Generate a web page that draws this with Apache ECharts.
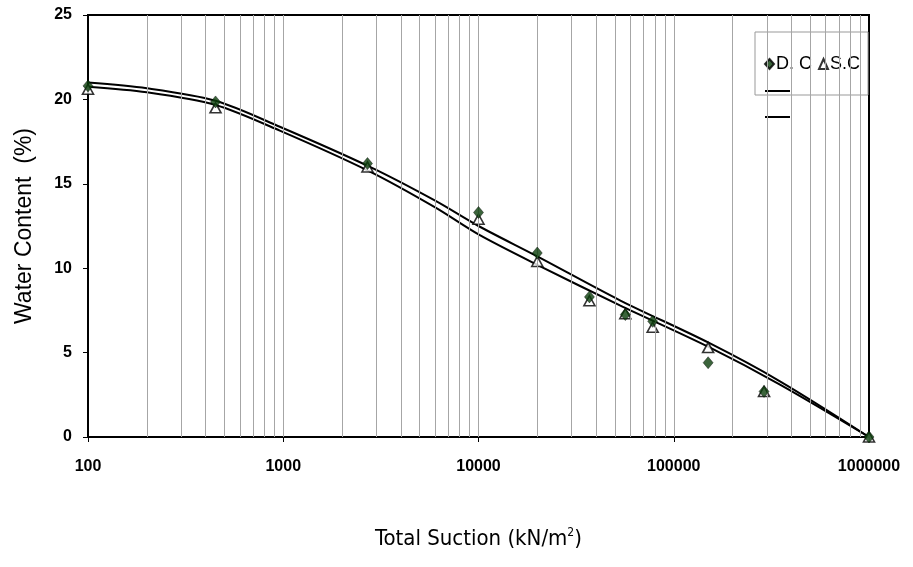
<!DOCTYPE html>
<html>
<head>
<meta charset="utf-8">
<script src="https://cdn.jsdelivr.net/npm/echarts@6/dist/echarts.min.js"></script>
<style>
  html, body {margin: 0; padding: 0; background: #fff;}
  #chart {width: 913px; height: 567px;}
</style>
</head>
<body>
<div id="chart"></div>
<script>
// measured points (suction kN/m2, water content %)
const dc_suction = [100, 450, 2700, 10000, 20000, 37000, 56500, 78000, 150000, 290000, 1000000];
const dc_water = [20.8, 19.85, 16.2, 13.3, 10.9, 8.3, 7.25, 6.85, 4.4, 2.7, 0];
const sc_suction = [100, 450, 2700, 10000, 20000, 37000, 56500, 78000, 150000, 290000, 1000000];
const sc_water = [20.6, 19.5, 16.0, 12.9, 10.4, 8.07, 7.3, 6.5, 5.3, 2.7, 0];

// fitted curves
const fit_suction = [100, 200, 450, 960, 2780, 6000, 10000, 20000, 53000, 150000, 350000, 1000000];
const fit_upper = [21.0, 20.66, 19.92, 18.38, 16.0, 14.0, 12.5, 10.7, 8.1, 5.6, 3.3, 0];
const fit_lower = [20.75, 20.42, 19.67, 18.15, 15.72, 13.6, 12.0, 10.2, 7.8, 5.35, 3.1, 0];

const x_ticks = [100, 1000, 10000, 100000, 1000000];
const y_ticks = [0, 5, 10, 15, 20, 25];

function zip(xs, ys) {
    return xs.map((x, i) => [x, ys[i]]);
}

// vertical log grid lines: 1..9 in each decade
let grid_values = [];
for (let d = 100; d < 1000000; d *= 10) {
    for (let k = 1; k <= 9; k++) {
        if (d * k > 100) grid_values.push(d * k);
    }
}

let chart = echarts.init(document.getElementById('chart'), null, {renderer: 'canvas'});

const option = {
    animation: false,
    grid: {
        left: 88, right: 44, top: 15, bottom: 130,
        show: true, borderColor: '#000', borderWidth: 2, backgroundColor: '#fff'
    },
    legend: [{
        data: ['D. C', 'S.C'],
        left: 755, top: 32,
        padding: [23, 8, 22, 9],
        itemGap: 6, itemWidth: 9, itemHeight: 10,
        borderColor: '#999', borderWidth: 1,
        backgroundColor: '#fff',
        textStyle: {fontFamily: 'Liberation Sans, Arial, sans-serif', fontSize: 18, color: '#000', padding: [0, 0, 0, -3]}
    }, {
        data: [{name: 'fit 1', icon: 'rect'}, {name: 'fit 2', icon: 'rect'}],
        orient: 'vertical',
        left: 765, top: 90,
        padding: 0,
        itemGap: 24, itemWidth: 25, itemHeight: 2,
        formatter: () => '',
        textStyle: {fontSize: 1}
    }],
    xAxis: {
        type: 'log', logBase: 10, min: x_ticks[0], max: x_ticks[x_ticks.length - 1],
        name: 'Total Suction (kN/m{sup|2})',
        nameLocation: 'middle', nameGap: 90,
        nameTextStyle: {
            fontFamily: 'DejaVu Sans Condensed, Liberation Sans Narrow, sans-serif',
            fontSize: 22, color: '#000',
            rich: {sup: {fontSize: 12, verticalAlign: 'top', padding: [0, 0, 12, 0],
                         fontFamily: 'DejaVu Sans Condensed, Liberation Sans Narrow, sans-serif'}}
        },
        axisLine: {lineStyle: {color: '#000', width: 2}},
        axisTick: {show: true, length: 5, lineStyle: {color: '#000'}},
        axisLabel: {
            margin: 22, color: '#000', fontWeight: 'bold', fontSize: 16,
            fontFamily: 'Liberation Sans, Arial, sans-serif',
            formatter: v => String(v)
        },
        splitLine: {show: false}
    },
    yAxis: {
        type: 'value', min: y_ticks[0], max: y_ticks[y_ticks.length - 1], interval: 5,
        name: 'Water Content  (%)',
        nameLocation: 'middle', nameGap: 52,
        nameTextStyle: {fontFamily: 'Liberation Sans, Arial, sans-serif', fontSize: 23, color: '#000'},
        axisLine: {show: true, lineStyle: {color: '#000', width: 2}},
        axisTick: {show: true, length: 5, lineStyle: {color: '#000'}},
        axisLabel: {
            margin: 16, color: '#000', fontWeight: 'bold', fontSize: 16,
            fontFamily: 'Liberation Sans, Arial, sans-serif'
        },
        splitLine: {show: false}
    },
    series: [{
        name: 'grid',
        type: 'line',
        data: [[100, 0]],
        symbol: 'none',
        lineStyle: {opacity: 0},
        z: 1,
        silent: true,
        markLine: {
            silent: true,
            symbol: 'none',
            label: {show: false},
            lineStyle: {color: '#a6a6a6', width: 1, type: 'solid'},
            data: grid_values.map(v => ({xAxis: v}))
        }
    }, {
        name: 'fit 1',
        type: 'line',
        data: zip(fit_suction, fit_upper),
        smooth: 0.3,
        symbol: 'none',
        lineStyle: {color: '#000', width: 2},
        itemStyle: {color: '#000'},
        z: 3
    }, {
        name: 'fit 2',
        type: 'line',
        data: zip(fit_suction, fit_lower),
        smooth: 0.3,
        symbol: 'none',
        lineStyle: {color: '#000', width: 2},
        itemStyle: {color: '#000'},
        z: 3
    }, {
        name: 'S.C',
        type: 'scatter',
        data: zip(sc_suction, sc_water),
        symbol: 'triangle',
        symbolSize: [11, 10],
        itemStyle: {color: '#fff', borderColor: '#000', borderWidth: 1.6},
        z: 4
    }, {
        name: 'D. C',
        type: 'scatter',
        data: zip(dc_suction, dc_water),
        symbol: 'diamond',
        symbolSize: [10, 12],
        itemStyle: {color: '#0a3d0a', borderColor: '#000', borderWidth: 0.5},
        z: 5
    }]
};

chart.setOption(option);
window.addEventListener('resize', function () {
    chart.resize();
});
</script>
</body>
</html>
